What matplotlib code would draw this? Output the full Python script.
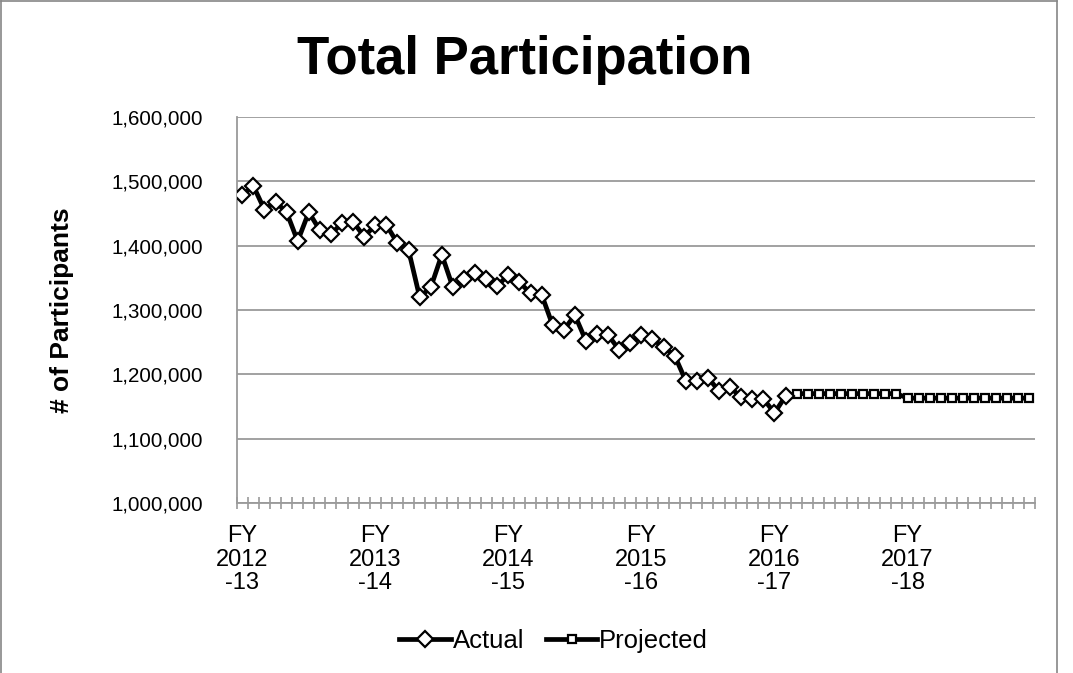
import numpy as np
import matplotlib
matplotlib.use("Agg")
import matplotlib.pyplot as plt
from matplotlib.lines import Line2D
from matplotlib.ticker import FuncFormatter

plt.rcParams["font.family"] = ["Liberation Sans", "DejaVu Sans"]

# monthly participation, first month of FY 2012-13 onward
actual = [
    1478000, 1493000, 1456000, 1468000, 1452000, 1407000, 1452000, 1424000,
    1418000, 1435000, 1437000, 1414000, 1432000, 1432000, 1404000, 1393000,
    1320000, 1335000, 1386000, 1335000, 1348000, 1357000, 1348000, 1337000,
    1355000, 1343000, 1326000, 1324000, 1276000, 1269000, 1292000, 1252000,
    1263000, 1261000, 1238000, 1248000, 1261000, 1255000, 1242000, 1229000,
    1190000, 1190000, 1195000, 1174000, 1180000, 1164000, 1161000, 1162000,
    1140000, 1166000,
]
projected = [1170000] * 10 + [1163000] * 12

year_labels = ["FY\n2012\n-13", "FY\n2013\n-14", "FY\n2014\n-15",
               "FY\n2015\n-16", "FY\n2016\n-17", "FY\n2017\n-18"]
n_months = 72

fig = plt.figure(figsize=(10.73, 6.73), dpi=100)
ax = fig.add_axes([0.2206, 0.2526, 0.744, 0.5736])

x_act = np.arange(len(actual))
x_proj = np.arange(len(actual), len(actual) + len(projected))

# projected line starts from the last actual point
ax.plot(np.concatenate([[x_act[-1]], x_proj]), [actual[-1]] + projected,
        color="black", lw=3.4, marker="s", ms=6.2, mfc="white", mec="black",
        mew=1.6, markevery=list(range(1, len(projected) + 1)), zorder=3)
ax.plot(x_act, actual, color="black", lw=3.4, marker="D", ms=8,
        mfc="white", mec="black", mew=1.6, zorder=4)

ax.set_xlim(-0.5, n_months - 0.5)
ax.set_ylim(1000000, 1600000)
ax.set_yticks(np.arange(1000000, 1600001, 100000))
ax.yaxis.set_major_formatter(FuncFormatter(lambda v, p: f"{int(v):,}"))
ax.tick_params(axis="y", length=0, labelsize=14.8, pad=24)

ax.set_xticks(np.arange(0, n_months, 12))
ax.set_xticklabels(year_labels, linespacing=1.08)
ax.set_xticks(np.arange(-0.5, n_months, 1), minor=True)
ax.tick_params(axis="x", which="major", length=0, labelsize=17, pad=16)
ax.tick_params(axis="x", which="minor", direction="inout", length=9,
               width=1.2, color="#9a9a9a")

ax.grid(axis="y", color="#9a9a9a", lw=1.3)
ax.set_axisbelow(True)
for s in ["top", "right"]:
    ax.spines[s].set_visible(False)
for s in ["left", "bottom"]:
    ax.spines[s].set_color("#9a9a9a")
    ax.spines[s].set_linewidth(1.3)

fig.text(0.058, 0.539, "# of Participants", rotation=90, ha="center",
         va="center", fontsize=19, fontweight="bold")
fig.text(0.489, 0.911, "Total Participation", ha="center", va="center",
         fontsize=38, fontweight="bold")

handles = [
    Line2D([], [], color="black", lw=3.4, marker="D", ms=8, mfc="white",
           mec="black", mew=1.6),
    Line2D([], [], color="black", lw=3.4, marker="s", ms=6, mfc="white",
           mec="black", mew=1.6),
]
fig.legend(handles, ["Actual", "Projected"], loc="center",
           bbox_to_anchor=(0.516, 0.047), ncol=2, frameon=False,
           fontsize=18.5, handlelength=2.0, handletextpad=0.08,
           columnspacing=0.85)

# outer chart border
border = "#868686"
fig.add_artist(Line2D([0.001, 0.001], [0, 0.999], color=border, lw=1.2))
fig.add_artist(Line2D([0.001, 0.985], [0.999, 0.999], color=border, lw=1.2))
fig.add_artist(Line2D([0.985, 0.985], [0, 0.999], color=border, lw=1.2))

fig.savefig("out.png", dpi=100)
